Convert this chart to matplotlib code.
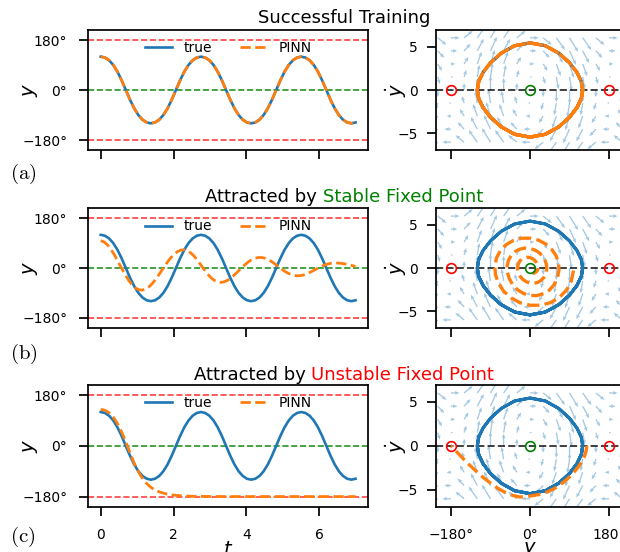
import numpy as np
import matplotlib
matplotlib.use("Agg")
import matplotlib.pyplot as plt

# ---------------- data ----------------
t_true = np.linspace(0, 7, 62)
true_y = [120.0, 116.77, 106.90, 90.0, 65.76, 34.91, 0.0, -34.91, -65.76, -90.0, -106.90, -116.77,
          -120.0, -116.77, -106.90, -90.0, -65.76, -34.91, 0.0, 34.91, 65.76, 90.0, 106.90, 116.77,
          120.0, 116.77, 106.90, 90.0, 65.76, 34.91, 0.0, -34.91, -65.76, -90.0, -106.90, -116.77,
          -120.0, -116.77, -106.90, -90.0, -65.76, -34.91, 0.0, 34.91, 65.76, 90.0, 106.90, 116.77,
          120.0, 116.77, 106.90, 90.0, 65.76, 34.91, 0.0, -34.91, -65.76, -90.0, -106.90, -116.77,
          -120.0, -116.77]
true_dy = [0.0, -0.99, -2.02, -3.13, -4.23, -5.09, -5.42, -5.09, -4.23, -3.13, -2.02, -0.99,
           0.0, 0.99, 2.02, 3.13, 4.23, 5.09, 5.42, 5.09, 4.23, 3.13, 2.02, 0.99,
           0.0, -0.99, -2.02, -3.13, -4.23, -5.09, -5.42, -5.09, -4.23, -3.13, -2.02, -0.99,
           0.0, 0.99, 2.02, 3.13, 4.23, 5.09, 5.42, 5.09, 4.23, 3.13, 2.02, 0.99,
           0.0, -0.99, -2.02, -3.13, -4.23, -5.09, -5.42, -5.09, -4.23, -3.13, -2.02, -0.99,
           0.0, 0.99]

# (a) PINN reproduces the true trajectory
pinn_a_t = t_true
pinn_a_y = list(true_y)
pinn_a_dy = list(true_dy)

# (b) PINN attracted to the stable fixed point (damped oscillation)
pinn_b_t = [0.0, 0.095, 0.19, 0.285, 0.38, 0.475, 0.57, 0.665, 0.76, 0.855, 0.95, 1.045,
            1.14, 1.237, 1.333, 1.43, 1.527, 1.623, 1.72, 1.817, 1.913, 2.01, 2.107, 2.203,
            2.30, 2.385, 2.47, 2.555, 2.64, 2.725, 2.81, 2.895, 2.98, 3.065, 3.15, 3.235,
            3.32, 3.411, 3.502, 3.593, 3.683, 3.774, 3.865, 3.956, 4.047, 4.138, 4.228, 4.319,
            4.41, 4.497, 4.583, 4.67, 4.757, 4.843, 4.93, 5.017, 5.103, 5.19, 5.277, 5.363,
            5.45, 5.538, 5.625, 5.713, 5.80, 5.888, 5.975, 6.063, 6.15, 6.238, 6.325, 6.413,
            6.50, 6.61, 6.721, 6.831, 6.941, 7.0]
pinn_b_y = [99.0, 94.10, 82.99, 66.64, 46.33, 23.57, 0.0, -22.75, -43.17, -59.93, -72.03, -78.80,
            -80.0, -76.15, -67.26, -54.09, -37.67, -19.20, 0.0, 18.59, 35.33, 49.14, 59.18, 64.88,
            66.0, 62.62, 55.14, 44.19, 30.67, 15.57, 0.0, -14.97, -28.33, -39.24, -47.05, -51.36,
            -52.0, -49.10, -43.01, -34.29, -23.67, -11.95, 0.0, 11.34, 21.33, 29.35, 34.93, 37.83,
            38.0, 35.90, 31.46, 25.10, 17.33, 8.76, 0.0, -8.33, -15.67, -21.57, -25.69, -27.85,
            -28.0, -26.24, -22.80, -18.03, -12.33, -6.17, 0.0, 5.74, 10.67, 14.50, 17.03, 18.19,
            18.0, 16.74, 14.43, 11.31, 7.67, 5.61]
pinn_b_dy = [-0.29, -1.49, -2.56, -3.41, -4.01, -4.31, -4.30, -4.01, -3.45, -2.68, -1.75, -0.73,
             0.21, 1.17, 2.02, 2.71, 3.19, 3.44, 3.45, 3.23, 2.79, 2.17, 1.43, 0.62,
             -0.24, -1.13, -1.92, -2.55, -2.97, -3.19, -3.17, -2.94, -2.52, -1.94, -1.25, -0.51,
             0.22, 0.88, 1.44, 1.88, 2.17, 2.30, 2.26, 2.07, 1.75, 1.32, 0.82, 0.29,
             -0.17, -0.67, -1.10, -1.44, -1.67, -1.77, -1.74, -1.59, -1.35, -1.02, -0.64, -0.23,
             0.17, 0.53, 0.83, 1.06, 1.20, 1.24, 1.20, 1.08, 0.88, 0.64, 0.37, 0.09,
             -0.11, -0.29, -0.44, -0.54, -0.60, -0.61]

# (c) PINN attracted to the unstable fixed point (-180 deg)
pinn_c_t = [0.0, 0.05, 0.10, 0.15, 0.20, 0.25, 0.30, 0.35, 0.40, 0.45, 0.50, 0.55, 0.60, 0.65,
            0.70, 0.75, 0.80, 0.85, 0.90, 0.95, 1.00, 1.10, 1.20, 1.30, 1.40, 1.50, 1.60, 1.80,
            2.00, 2.20, 2.50, 3.00, 3.50, 4.00, 5.00, 6.00, 7.00]
pinn_c_y = [129.0, 128.45, 126.81, 124.04, 120.10, 114.95, 108.53, 100.77, 91.63, 81.09, 69.16,
            55.91, 41.50, 26.16, 10.20, -6.19, -23.22, -39.75, -55.46, -70.10, -83.49, -106.66,
            -124.84, -138.77, -149.30, -157.17, -163.08, -170.71, -174.90, -177.20, -178.86,
            -179.75, -179.94, -179.99, -180.0, -180.0, -180.0]
pinn_c_dy = [0.0, -0.38, -0.77, -1.17, -1.59, -2.02, -2.48, -2.95, -3.44, -3.92, -4.39, -4.83,
             -5.19, -5.46, -5.61, -5.74, -5.80, -5.62, -5.31, -4.91, -4.48, -3.58, -2.77, -2.12,
             -1.60, -1.19, -0.88, -0.49, -0.27, -0.15, -0.06, -0.01, 0.0, 0.0, 0.0, 0.0, 0.0]

# vector field grid of the pendulum (y in degrees, ydot in rad/s)
G_OVER_L = 9.81
field_y = [-210, -180, -150, -120, -90, -60, -30, 0, 30, 60, 90, 120, 150, 180, 210]
field_dy = [-6.0, -4.5, -3.0, -1.5, 0.0, 1.5, 3.0, 4.5, 6.0]

unstable_pts = [-180, 180]
stable_pts = [0]

y_ticks = [-180, 0, 180]
y_tick_labels = ["\u2212180\u00b0", "0\u00b0", "180\u00b0"]
t_ticks = [0, 2, 4, 6]
dy_ticks = [-5, 0, 5]

titles = [[("Successful Training", "black")],
          [("Attracted by ", "black"), ("Stable Fixed Point", "green")],
          [("Attracted by ", "black"), ("Unstable Fixed Point", "red")]]
panel_tags = [r"$\mathrm{(a)}$", r"$\mathrm{(b)}$", r"$\mathrm{(c)}$"]

rows = [(pinn_a_t, pinn_a_y, pinn_a_dy),
        (pinn_b_t, pinn_b_y, pinn_b_dy),
        (pinn_c_t, pinn_c_y, pinn_c_dy)]

# ---------------- style ----------------
W, H = 620, 552
plt.rcParams.update({
    "font.family": ["DejaVu Sans"],
    "axes.linewidth": 1.25,
    "xtick.major.size": 6.5, "ytick.major.size": 6.5,
    "xtick.major.width": 1.25, "ytick.major.width": 1.25,
    "xtick.labelsize": 10, "ytick.labelsize": 10,
})
BLUE = "#1f77b4"
ORANGE = "#ff7f0e"

fig = plt.figure(figsize=(W / 100, H / 100), dpi=100)

# axes boxes in pixels: (top, bottom)
row_px = [(30, 150), (208.3, 327.7), (385, 506.7)]
left_x = (88, 368.3)
right_x = (436, 624)

def frac_box(xpx, ypx):
    x0, x1 = xpx
    top, bot = ypx
    return [x0 / W, 1 - bot / H, (x1 - x0) / W, (bot - top) / H]

FX, FY = np.meshgrid(field_y, field_dy)
FU = FY
FV = -G_OVER_L * np.sin(np.radians(FX))

for i, (pt, py, pdy) in enumerate(rows):
    axl = fig.add_axes(frac_box(left_x, row_px[i]))
    axr = fig.add_axes(frac_box(right_x, row_px[i]))

    # ---- left: time series ----
    axl.axhline(180, color="red", ls="--", lw=1.2, alpha=0.75, zorder=1)
    axl.axhline(-180, color="red", ls="--", lw=1.2, alpha=0.75, zorder=1)
    axl.axhline(0, color="green", ls="--", lw=1.2, alpha=0.85, zorder=1)
    axl.plot(t_true, true_y, color=BLUE, lw=1.9, label="true", zorder=3)
    axl.plot(pt, py, color=ORANGE, lw=2.0, ls="--", label="PINN", zorder=4)
    axl.set_xlim(-0.35, 7.35)
    axl.set_ylim(-216, 216)
    axl.set_yticks(y_ticks)
    axl.set_yticklabels(y_tick_labels)
    axl.set_xticks(t_ticks)
    axl.tick_params(axis="y", pad=8.5)
    axl.tick_params(axis="x", pad=8.5)
    axl.set_ylabel(r"$y$", fontsize=14)
    axl.yaxis.set_label_coords(-0.17, 0.5)
    axl.legend(loc="upper center", ncol=2, frameon=False, fontsize=10,
               borderaxespad=0.4)

    # ---- right: phase portrait ----
    axr.quiver(FX, FY, FU, FV, color=BLUE, alpha=0.4, angles="uv",
               scale_units="dots", scale=0.7, width=0.007, headwidth=3,
               headlength=3.5, headaxislength=3, zorder=0)
    axr.axhline(0, color="black", ls="--", lw=1.4, alpha=0.75, zorder=1)
    axr.plot(true_y, true_dy, color=BLUE, lw=2.2, zorder=3)
    axr.plot(py, pdy, color=ORANGE, lw=2.4, ls="--", zorder=4)
    axr.plot(unstable_pts, [0] * len(unstable_pts), "o", mfc="none", mec="red",
             ms=7, mew=1.2, zorder=5)
    axr.plot(stable_pts, [0] * len(stable_pts), "o", mfc="none", mec="green",
             ms=7, mew=1.2, zorder=5)
    axr.set_xlim(-214, 214)
    axr.set_ylim(-6.9, 6.9)
    axr.set_xticks(y_ticks)
    axr.set_yticks(dy_ticks)
    axr.tick_params(axis="y", pad=6.5)
    axr.tick_params(axis="x", pad=8.5)
    axr.set_ylabel(r"$\dot{y}$", fontsize=14)
    axr.yaxis.set_label_coords(-0.145, 0.5)

    if i < 2:
        axl.set_xticklabels([])
        axr.set_xticklabels([])
    else:
        axr.set_xticklabels(y_tick_labels)
        axl.set_xlabel(r"$t$", fontsize=14)
        axr.set_xlabel(r"$y$", fontsize=14)
        axl.xaxis.set_label_coords(0.5, -0.275)
        axr.xaxis.set_label_coords(0.5, -0.275)

# ---------------- titles & tags ----------------
renderer = fig.canvas.get_renderer()
title_base = [23.3, 201.7, 380]
cx = 344 / W
for parts, yb in zip(titles, title_base):
    yf = 1 - yb / H
    full = "".join(p for p, _ in parts)
    tmp = fig.text(cx, yf, full, fontsize=13, ha="center", va="baseline")
    bb = tmp.get_window_extent(renderer)
    tmp.remove()
    if len(parts) == 1:
        fig.text(cx, yf, full, fontsize=13, ha="center", va="baseline",
                 color=parts[0][1])
    else:
        fig.text(bb.x0 / W, yf, parts[0][0].rstrip(), fontsize=13, ha="left",
                 va="baseline", color=parts[0][1])
        fig.text(bb.x1 / W, yf, parts[1][0], fontsize=13, ha="right",
                 va="baseline", color=parts[1][1])

tag_y = [174, 354, 537]
for tag, yc in zip(panel_tags, tag_y):
    fig.text(10 / W, 1 - yc / H, tag, fontsize=15, ha="left", va="center",
             math_fontfamily="cm")

fig.savefig("out.png", dpi=100)
